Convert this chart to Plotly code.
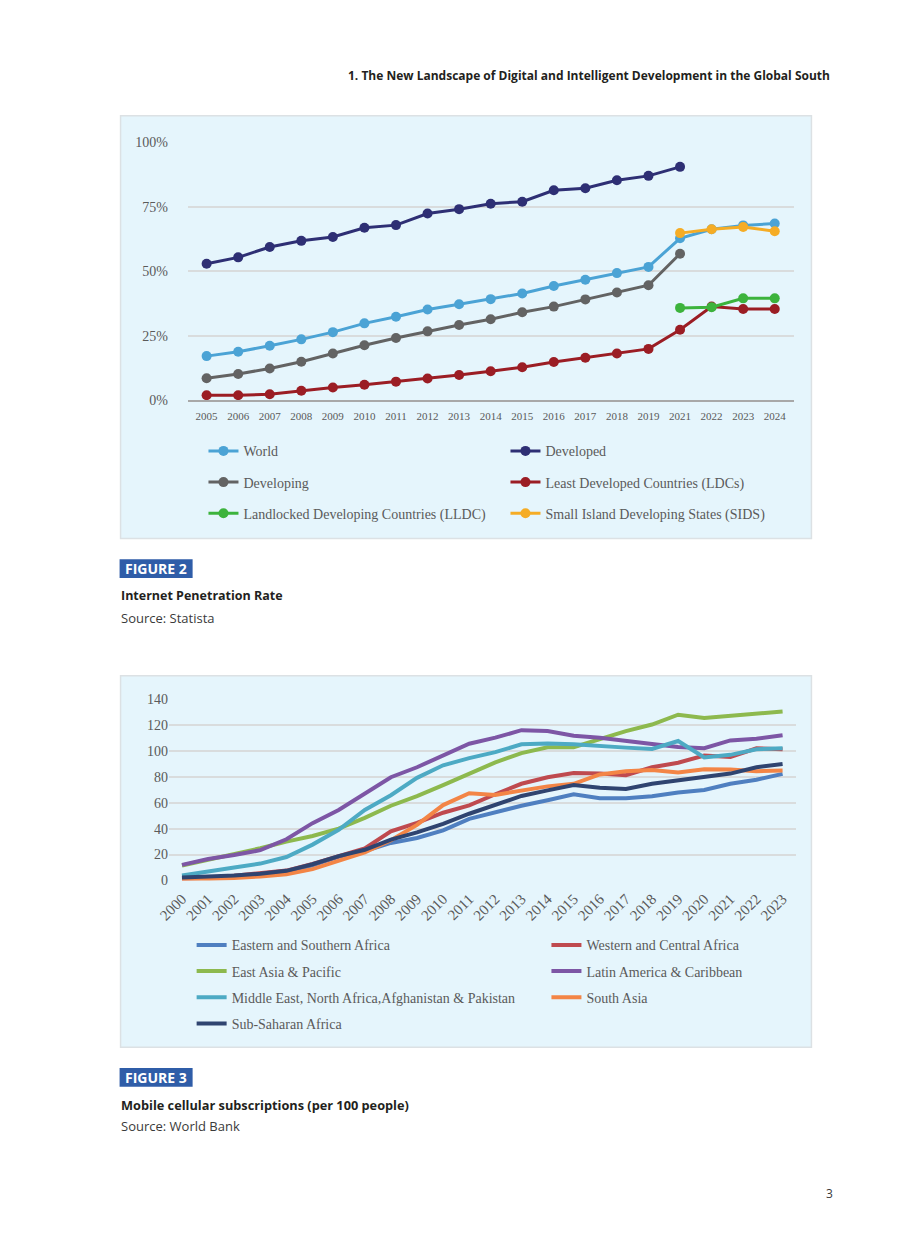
import plotly.graph_objects as go

W, H = 920, 1249

def px(x):
    return x / W

def py(y):
    return 1 - y / H

# ---------------- Figure 2 data: Internet penetration rate (%) ----------------
years_a = ["2005", "2006", "2007", "2008", "2009", "2010", "2011", "2012", "2013",
           "2014", "2015", "2016", "2017", "2018", "2019", "2021", "2022", "2023", "2024"]
world = [17.1, 18.8, 21.1, 23.6, 26.4, 29.8, 32.4, 35.2, 37.2, 39.2, 41.4, 44.3, 46.7,
         49.3, 51.7, 62.8, 66.3, 67.8, 68.5]
developed = [52.9, 55.4, 59.4, 61.8, 63.3, 66.9, 67.9, 72.4, 74.1, 76.2, 77.0, 81.4, 82.2,
             85.3, 87.0, 90.5, None, None, None]
developing = [8.5, 10.2, 12.3, 14.9, 18.1, 21.3, 24.1, 26.7, 29.2, 31.4, 34.1, 36.3, 39.1,
              41.8, 44.6, 56.8, None, None, None]
ldc = [1.9, 1.9, 2.3, 3.7, 4.9, 6.0, 7.2, 8.4, 9.8, 11.2, 12.8, 14.8, 16.5, 18.1, 19.9,
       27.3, 36.3, 35.4, 35.4]
lldc = [None] * 15 + [35.8, 36.1, 39.5, 39.5]
sids = [None] * 15 + [64.8, 66.3, 67.2, 65.5]
pct_ticks = [0, 25, 50, 75, 100]
pct_labels = ["0%", "25%", "50%", "75%", "100%"]

series_a = [
    ("World", world, "#4BA3D5", "legend"),
    ("Developed", developed, "#2E2F74", "legend2"),
    ("Developing", developing, "#636363", "legend"),
    ("Least Developed Countries (LDCs)", ldc, "#9B1D24", "legend2"),
    ("Landlocked Developing Countries (LLDC)", lldc, "#3CB33C", "legend"),
    ("Small Island Developing States (SIDS)", sids, "#F5AC25", "legend2"),
]

# ---------------- Figure 3 data: Mobile cellular subscriptions (per 100) ----------------
years_b = [str(y) for y in range(2000, 2024)]
esa = [1.8, 2.3, 3.1, 4.3, 6.4, 11.7, 18.3, 22.7, 29.0, 32.8, 38.7, 47.6, 52.7, 57.8,
       62.1, 66.7, 63.6, 63.6, 65.2, 68.0, 70.0, 74.8, 77.9, 82.5]
wca = [1.3, 2.0, 3.6, 5.3, 7.6, 12.7, 18.8, 24.7, 37.9, 44.5, 52.4, 58.1, 66.7, 74.8,
       79.9, 83.2, 82.7, 81.5, 87.6, 91.1, 96.7, 95.5, 102.3, 101.6]
eap = [11.5, 16.0, 20.1, 24.9, 30.0, 34.4, 40.0, 48.4, 57.8, 65.2, 73.8, 82.6, 91.4, 98.5,
       103.1, 103.1, 109.5, 115.6, 120.7, 128.3, 125.7, 127.5, 128.8, 130.8]
lac = [12.0, 16.5, 19.6, 23.4, 31.8, 44.3, 54.5, 67.2, 79.9, 87.6, 96.5, 105.8, 110.5, 116.3,
       115.6, 112.0, 110.5, 107.7, 105.6, 103.3, 102.3, 108.4, 109.7, 112.3]
mena = [3.8, 6.6, 9.9, 13.0, 18.1, 27.7, 39.2, 54.5, 65.9, 79.4, 89.1, 94.7, 99.3, 105.4,
        105.9, 105.4, 103.9, 102.8, 101.8, 107.9, 95.2, 97.2, 101.6, 102.3]
sa = [0.3, 0.8, 1.8, 3.1, 4.8, 8.7, 15.3, 21.6, 31.1, 43.0, 58.3, 67.5, 66.2, 69.2,
      72.8, 74.8, 82.0, 84.5, 85.5, 83.5, 86.0, 85.8, 84.5, 85.0]
ssa = [2.3, 2.8, 3.8, 5.1, 7.4, 12.5, 18.8, 23.7, 31.6, 37.2, 43.8, 51.6, 58.3, 65.4,
       69.7, 73.8, 71.8, 70.8, 74.8, 77.4, 80.4, 82.7, 87.6, 90.1]

series_b = [
    ("Eastern and Southern Africa", esa, "#4F7FC0", "legend3"),
    ("Western and Central Africa", wca, "#BF4A4F", "legend4"),
    ("East Asia & Pacific", eap, "#8DB94E", "legend3"),
    ("Latin America & Caribbean", lac, "#7D56A5", "legend4"),
    ("Middle East, North Africa,Afghanistan & Pakistan", mena, "#4DAAC4", "legend3"),
    ("South Asia", sa, "#F38546", "legend4"),
    ("Sub-Saharan Africa", ssa, "#2F4470", "legend3"),
]

fig = go.Figure()

for i, (name, vals, col, lg) in enumerate(series_a):
    fig.add_trace(go.Scatter(
        x=years_a, y=vals, name=name, mode="lines+markers",
        line=dict(color=col, width=3), marker=dict(color=col, size=10),
        xaxis="x", yaxis="y", legend=lg, legendgroup="a%d" % i,
        connectgaps=False, cliponaxis=False,
    ))

for i, (name, vals, col, lg) in enumerate(series_b):
    fig.add_trace(go.Scatter(
        x=years_b, y=vals, name=name, mode="lines",
        line=dict(color=col, width=4),
        xaxis="x2", yaxis="y2", legend=lg, legendgroup="b%d" % i,
        cliponaxis=False,
    ))

serif = "Liberation Serif, Times New Roman, serif"
tick_col = "#5A5A5A"
grid_col = "#D9DCDD"
sans = "Open Sans, Roboto, sans-serif"

fig.update_layout(
    width=W, height=H,
    margin=dict(l=0, r=0, t=0, b=0),
    paper_bgcolor="white",
    plot_bgcolor="rgba(0,0,0,0)",
    showlegend=True,
    xaxis=dict(domain=[px(178), px(792)], type="category", range=[-0.6, 18.6],
               showgrid=False, showline=True, linecolor="#A8A8A8", linewidth=1.5,
               ticks="outside", ticklen=5, tickcolor="rgba(0,0,0,0)",
               tickfont=dict(family=serif, size=11, color=tick_col), zeroline=False,
               fixedrange=True),
    yaxis=dict(domain=[py(398), py(137)], range=[0, 100], tickvals=pct_ticks,
               ticktext=pct_labels, showgrid=True, gridcolor=grid_col, gridwidth=1.5,
               zeroline=False, showline=False,
               ticks="outside", ticklen=16, tickcolor="rgba(0,0,0,0)",
               tickfont=dict(family=serif, size=14, color=tick_col), fixedrange=True),
    xaxis2=dict(domain=[px(159), px(794)], type="category", range=[-0.5, 23.5],
                showgrid=False, showline=False, zeroline=False, tickangle=-45,
                ticks="outside", ticklen=3, tickcolor="rgba(0,0,0,0)",
                tickfont=dict(family=serif, size=15, color=tick_col), anchor="y2",
                fixedrange=True),
    yaxis2=dict(domain=[py(884), py(701)], range=[0, 140], dtick=20,
                showgrid=True, gridcolor=grid_col, gridwidth=1.5, zeroline=False,
                showline=False, anchor="x2",
                tickfont=dict(family=serif, size=14, color=tick_col), fixedrange=True),
)

leg_common = dict(orientation="v", bgcolor="rgba(0,0,0,0)", xanchor="left",
                  yanchor="top", traceorder="grouped", itemclick=False,
                  itemdoubleclick=False)

fig.update_layout(
    legend=dict(x=px(194), y=py(433.5), tracegroupgap=10,
                font=dict(family=serif, size=14, color=tick_col), **leg_common),
    legend2=dict(x=px(500), y=py(433.5), tracegroupgap=10,
                 font=dict(family=serif, size=14, color=tick_col), **leg_common),
    legend3=dict(x=px(182), y=py(933.5), tracegroupgap=5,
                 font=dict(family=serif, size=14, color=tick_col), **leg_common),
    legend4=dict(x=px(541.5), y=py(933.5), tracegroupgap=5,
                 font=dict(family=serif, size=14, color=tick_col), **leg_common),
)

shapes = [
    dict(type="rect", xref="paper", yref="paper", x0=px(110), x1=px(810), y0=py(110), y1=py(538),
         fillcolor="#E5F5FC", line=dict(color="#DCE1E4", width=1.5), layer="below"),
    dict(type="rect", xref="paper", yref="paper", x0=px(110), x1=px(810), y0=py(677), y1=py(1053),
         fillcolor="#E5F5FC", line=dict(color="#DCE1E4", width=1.5), layer="below"),
    dict(type="rect", xref="paper", yref="paper", x0=px(109), x1=px(183), y0=py(559), y1=py(578),
         fillcolor="#2F5DA8", line=dict(width=0), layer="below"),
    dict(type="rect", xref="paper", yref="paper", x0=px(109), x1=px(183), y0=py(1074), y1=py(1093),
         fillcolor="#2F5DA8", line=dict(width=0), layer="below"),
]
fig.update_layout(shapes=shapes)

def ann(text, x, y, size=12, color="#231F20", xanchor="left", bold=False, family=sans):
    if bold:
        text = "<b>%s</b>" % text
    return dict(text=text, x=px(x), y=py(y), xref="paper", yref="paper",
                xanchor=xanchor, yanchor="middle", showarrow=False,
                font=dict(family=family, size=size, color=color))

annotations = [
    ann("1. The New Landscape of Digital and Intelligent Development in the Global South",
        831, 69, size=12, xanchor="right", bold=True),
    ann("FIGURE 2", 146, 568.5, size=14, color="white", xanchor="center", bold=True),
    ann("Internet Penetration Rate", 108, 596, size=12.5, bold=True),
    ann("Source: Statista", 108, 618, size=13, color="#3A3A3A"),
    ann("FIGURE 3", 146, 1083.5, size=14, color="white", xanchor="center", bold=True),
    ann("Mobile cellular subscriptions (per 100 people)", 108, 1111, size=12.75, bold=True),
    ann("Source: World Bank", 108, 1133, size=13, color="#3A3A3A"),
    ann("3", 828, 1201, size=12, color="#3A3A3A", xanchor="center"),
]
fig.update_layout(annotations=annotations)

fig.write_html("out.html")
